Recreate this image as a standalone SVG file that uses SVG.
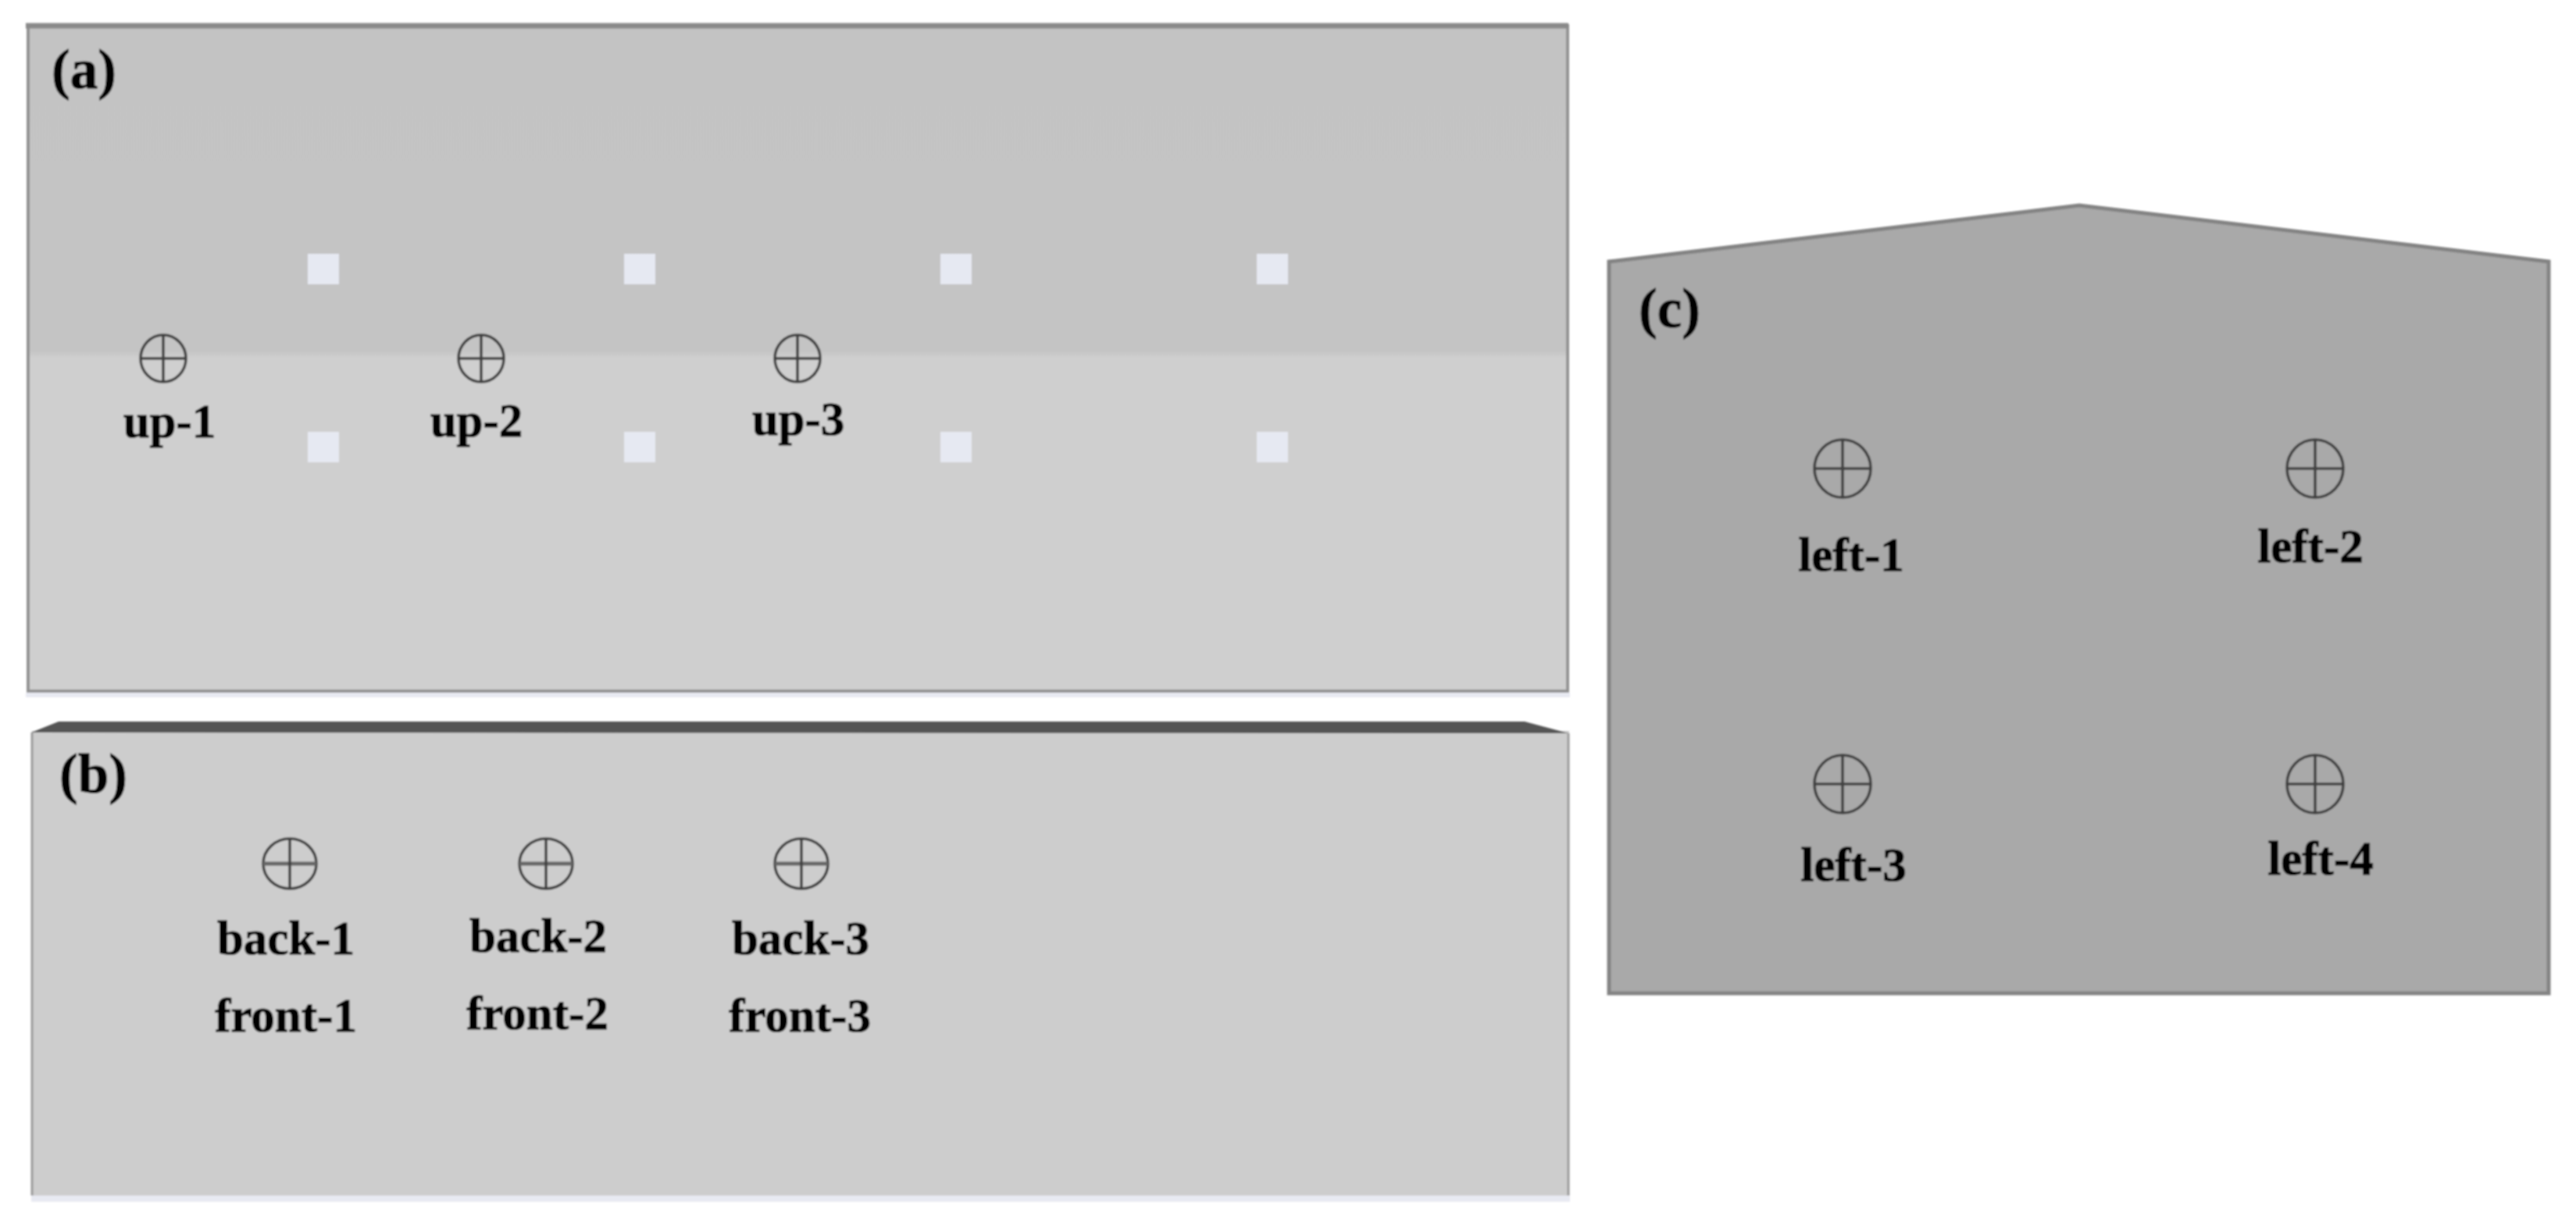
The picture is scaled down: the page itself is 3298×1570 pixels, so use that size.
<svg xmlns="http://www.w3.org/2000/svg" width="3298" height="1570" viewBox="0 0 3298 1570">
<defs>
<linearGradient id="aFill" x1="0" y1="30" x2="0" y2="886" gradientUnits="userSpaceOnUse">
<stop offset="0" stop-color="#c3c3c3"/><stop offset="0.49" stop-color="#c4c4c4"/><stop offset="0.5" stop-color="#cfcfcf"/><stop offset="1" stop-color="#cfcfcf"/>
</linearGradient>
<filter id="soft" x="-2%" y="-2%" width="104%" height="104%"><feGaussianBlur stdDeviation="1.2"/></filter>
<g id="a-sensor"><ellipse rx="29" ry="30" class="ring"/><path d="M-29 0H29M0 -30V30" class="ring"/></g>
<g id="b-sensor"><ellipse rx="34" ry="32" class="ring"/><path d="M-34 0H34" class="ring thick"/><path d="M0 -32V32" class="ring"/></g>
<g id="c-sensor"><ellipse rx="36" ry="37" class="ring"/><path d="M-36 0H36M0 -37V37" class="ring"/></g>
</defs>
<style>
.ring{fill:none;stroke:#404040;stroke-width:3.6}
.thick{stroke:#666666;stroke-width:5}
.port{fill:#e6e9f2}
.panel-edge{fill:none;stroke:#939393}
text{font-family:"Liberation Serif","Times New Roman",serif;font-weight:700;fill:#000000;stroke:#000000;stroke-width:1}
.lab{font-size:61px;text-anchor:middle}
.tag{font-size:71px}
</style>
<rect width="3298" height="1570" fill="#ffffff"/>
<g filter="url(#soft)">
<g id="panel-a">
<rect x="33" y="887" width="1977" height="6" fill="#e8eaf2"/>
<rect x="34" y="30" width="1974" height="857" fill="url(#aFill)"/>
<path d="M36 33H2007V885H36Z" class="panel-edge" stroke-width="4"/>
<path d="M33 33H2008" stroke="#8a8a8a" stroke-width="7" fill="none"/>
<rect class="port" x="394" y="325" width="40" height="39"/>
<rect class="port" x="799" y="325" width="40" height="39"/>
<rect class="port" x="1204" y="325" width="40" height="39"/>
<rect class="port" x="1609" y="325" width="40" height="39"/>
<rect class="port" x="394" y="553" width="40" height="39"/>
<rect class="port" x="799" y="553" width="40" height="39"/>
<rect class="port" x="1204" y="553" width="40" height="39"/>
<rect class="port" x="1609" y="553" width="40" height="39"/>
<text class="tag" x="66" y="113">(a)</text>
</g>
<g id="up-1"><use href="#a-sensor" x="209" y="459"/><text class="lab" x="217" y="560">up-1</text></g>
<g id="up-2"><use href="#a-sensor" x="616" y="459"/><text class="lab" x="610" y="559">up-2</text></g>
<g id="up-3"><use href="#a-sensor" x="1021" y="459"/><text class="lab" x="1022" y="557">up-3</text></g>
<g id="panel-b">
<path d="M40 1531H2010V1539H40Z" fill="#e8eaf2"/>
<rect x="41" y="936" width="1968" height="595" fill="#cdcdcd"/>
<path d="M41 1531V938M2008 939V1531" fill="none" stroke="#9a9a9a" stroke-width="3"/>
<path d="M40 938L75 924H1952L2008 939Z" fill="#555555"/>
<text class="tag" x="76" y="1015">(b)</text>
</g>
<g id="back-1"><use href="#b-sensor" x="371" y="1106"/><text class="lab" x="366" y="1222">back-1</text></g>
<g id="back-2"><use href="#b-sensor" x="699" y="1106"/><text class="lab" x="689" y="1219">back-2</text></g>
<g id="back-3"><use href="#b-sensor" x="1026" y="1106"/><text class="lab" x="1025" y="1222">back-3</text></g>
<g id="front-1"><text class="lab" x="366" y="1321">front-1</text></g>
<g id="front-2"><text class="lab" x="688" y="1318">front-2</text></g>
<g id="front-3"><text class="lab" x="1024" y="1321">front-3</text></g>
<g id="panel-c">
<path d="M2060 335L2662 263L3263 335V1272H2060Z" fill="#a9a9a9" stroke="#838383" stroke-width="5" stroke-linejoin="miter"/>
<text class="tag" x="2098" y="419">(c)</text>
</g>
<g id="left-1"><use href="#c-sensor" x="2359" y="600"/><text class="lab" x="2370" y="731">left-1</text></g>
<g id="left-2"><use href="#c-sensor" x="2964" y="600"/><text class="lab" x="2958" y="720">left-2</text></g>
<g id="left-3"><use href="#c-sensor" x="2359" y="1004"/><text class="lab" x="2373" y="1128">left-3</text></g>
<g id="left-4"><use href="#c-sensor" x="2964" y="1004"/><text class="lab" x="2971" y="1120">left-4</text></g>
</g>
</svg>
